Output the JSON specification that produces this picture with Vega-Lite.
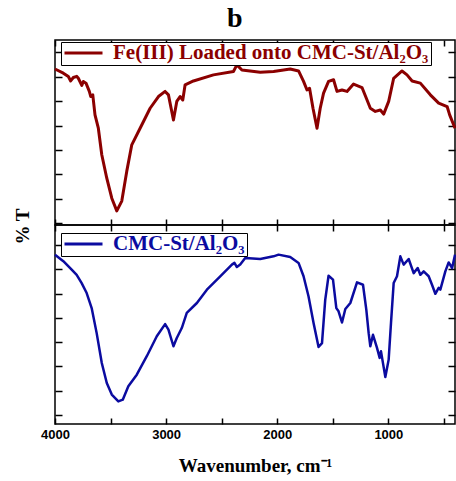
{
  "$schema": "https://vega.github.io/schema/vega-lite/v6.json",
  "autosize": {"type": "pad"},
  "padding": {"left": 12, "top": 4, "right": 0, "bottom": 0},
  "title": {"text": "b", "font": "Liberation Serif", "fontSize": 28, "fontWeight": "bold", "color": "black", "anchor": "middle", "offset": 6},
  "config": {
    "view": {"stroke": "black", "strokeWidth": 1.5},
    "axis": {"grid": false, "domain": false, "tickColor": "black", "tickWidth": 1.5, "minExtent": 0,
      "labelFont": "Liberation Sans", "labelFontWeight": "bold", "labelFontSize": 13, "labelColor": "black",
      "titleFont": "Liberation Serif", "titleFontWeight": "bold", "titleFontSize": 19, "titleColor": "black"},
    "legend": {"orient": "none", "legendX": 6, "legendY": 2, "strokeColor": "black", "fillColor": "white",
      "padding": 2, "symbolType": "stroke", "symbolStrokeWidth": 3, "symbolSize": 1444, "clipHeight": 18,
      "labelFont": "Liberation Serif", "labelFontWeight": "bold", "labelFontSize": 21, "labelLimit": 0, "labelOffset": 9, "title": null}
  },
  "datasets": {
    "fe": [
      {"wn":4000,"t":73.2,"sample":"Fe(III) Loaded onto CMC-St/Al₂O₃"},
      {"wn":3925,"t":71.5,"sample":"Fe(III) Loaded onto CMC-St/Al₂O₃"},
      {"wn":3880,"t":70.1,"sample":"Fe(III) Loaded onto CMC-St/Al₂O₃"},
      {"wn":3859,"t":68.3,"sample":"Fe(III) Loaded onto CMC-St/Al₂O₃"},
      {"wn":3835,"t":69.7,"sample":"Fe(III) Loaded onto CMC-St/Al₂O₃"},
      {"wn":3804,"t":70.2,"sample":"Fe(III) Loaded onto CMC-St/Al₂O₃"},
      {"wn":3790,"t":69.4,"sample":"Fe(III) Loaded onto CMC-St/Al₂O₃"},
      {"wn":3759,"t":66.5,"sample":"Fe(III) Loaded onto CMC-St/Al₂O₃"},
      {"wn":3745,"t":68.1,"sample":"Fe(III) Loaded onto CMC-St/Al₂O₃"},
      {"wn":3721,"t":67.4,"sample":"Fe(III) Loaded onto CMC-St/Al₂O₃"},
      {"wn":3691,"t":64.0,"sample":"Fe(III) Loaded onto CMC-St/Al₂O₃"},
      {"wn":3678,"t":61.9,"sample":"Fe(III) Loaded onto CMC-St/Al₂O₃"},
      {"wn":3660,"t":62.6,"sample":"Fe(III) Loaded onto CMC-St/Al₂O₃"},
      {"wn":3640,"t":54.4,"sample":"Fe(III) Loaded onto CMC-St/Al₂O₃"},
      {"wn":3610,"t":48.9,"sample":"Fe(III) Loaded onto CMC-St/Al₂O₃"},
      {"wn":3579,"t":38.0,"sample":"Fe(III) Loaded onto CMC-St/Al₂O₃"},
      {"wn":3534,"t":28.4,"sample":"Fe(III) Loaded onto CMC-St/Al₂O₃"},
      {"wn":3489,"t":20.2,"sample":"Fe(III) Loaded onto CMC-St/Al₂O₃"},
      {"wn":3444,"t":15.0,"sample":"Fe(III) Loaded onto CMC-St/Al₂O₃"},
      {"wn":3399,"t":19.0,"sample":"Fe(III) Loaded onto CMC-St/Al₂O₃"},
      {"wn":3354,"t":31.3,"sample":"Fe(III) Loaded onto CMC-St/Al₂O₃"},
      {"wn":3309,"t":42.1,"sample":"Fe(III) Loaded onto CMC-St/Al₂O₃"},
      {"wn":3234,"t":48.9,"sample":"Fe(III) Loaded onto CMC-St/Al₂O₃"},
      {"wn":3144,"t":57.1,"sample":"Fe(III) Loaded onto CMC-St/Al₂O₃"},
      {"wn":3069,"t":61.9,"sample":"Fe(III) Loaded onto CMC-St/Al₂O₃"},
      {"wn":3009,"t":64.0,"sample":"Fe(III) Loaded onto CMC-St/Al₂O₃"},
      {"wn":2979,"t":62.6,"sample":"Fe(III) Loaded onto CMC-St/Al₂O₃"},
      {"wn":2934,"t":52.3,"sample":"Fe(III) Loaded onto CMC-St/Al₂O₃"},
      {"wn":2904,"t":59.9,"sample":"Fe(III) Loaded onto CMC-St/Al₂O₃"},
      {"wn":2874,"t":61.9,"sample":"Fe(III) Loaded onto CMC-St/Al₂O₃"},
      {"wn":2850,"t":60.5,"sample":"Fe(III) Loaded onto CMC-St/Al₂O₃"},
      {"wn":2829,"t":66.7,"sample":"Fe(III) Loaded onto CMC-St/Al₂O₃"},
      {"wn":2754,"t":68.3,"sample":"Fe(III) Loaded onto CMC-St/Al₂O₃"},
      {"wn":2574,"t":70.8,"sample":"Fe(III) Loaded onto CMC-St/Al₂O₃"},
      {"wn":2394,"t":72.2,"sample":"Fe(III) Loaded onto CMC-St/Al₂O₃"},
      {"wn":2363,"t":74.9,"sample":"Fe(III) Loaded onto CMC-St/Al₂O₃"},
      {"wn":2318,"t":72.8,"sample":"Fe(III) Loaded onto CMC-St/Al₂O₃"},
      {"wn":2153,"t":71.9,"sample":"Fe(III) Loaded onto CMC-St/Al₂O₃"},
      {"wn":2033,"t":72.2,"sample":"Fe(III) Loaded onto CMC-St/Al₂O₃"},
      {"wn":1883,"t":73.2,"sample":"Fe(III) Loaded onto CMC-St/Al₂O₃"},
      {"wn":1808,"t":72.4,"sample":"Fe(III) Loaded onto CMC-St/Al₂O₃"},
      {"wn":1763,"t":68.1,"sample":"Fe(III) Loaded onto CMC-St/Al₂O₃"},
      {"wn":1732,"t":64.6,"sample":"Fe(III) Loaded onto CMC-St/Al₂O₃"},
      {"wn":1709,"t":65.3,"sample":"Fe(III) Loaded onto CMC-St/Al₂O₃"},
      {"wn":1678,"t":57.1,"sample":"Fe(III) Loaded onto CMC-St/Al₂O₃"},
      {"wn":1642,"t":48.9,"sample":"Fe(III) Loaded onto CMC-St/Al₂O₃"},
      {"wn":1613,"t":57.1,"sample":"Fe(III) Loaded onto CMC-St/Al₂O₃"},
      {"wn":1583,"t":63.3,"sample":"Fe(III) Loaded onto CMC-St/Al₂O₃"},
      {"wn":1538,"t":68.1,"sample":"Fe(III) Loaded onto CMC-St/Al₂O₃"},
      {"wn":1493,"t":68.8,"sample":"Fe(III) Loaded onto CMC-St/Al₂O₃"},
      {"wn":1462,"t":64.0,"sample":"Fe(III) Loaded onto CMC-St/Al₂O₃"},
      {"wn":1417,"t":64.6,"sample":"Fe(III) Loaded onto CMC-St/Al₂O₃"},
      {"wn":1372,"t":64.0,"sample":"Fe(III) Loaded onto CMC-St/Al₂O₃"},
      {"wn":1313,"t":67.0,"sample":"Fe(III) Loaded onto CMC-St/Al₂O₃"},
      {"wn":1237,"t":65.6,"sample":"Fe(III) Loaded onto CMC-St/Al₂O₃"},
      {"wn":1198,"t":61.2,"sample":"Fe(III) Loaded onto CMC-St/Al₂O₃"},
      {"wn":1162,"t":57.1,"sample":"Fe(III) Loaded onto CMC-St/Al₂O₃"},
      {"wn":1117,"t":55.8,"sample":"Fe(III) Loaded onto CMC-St/Al₂O₃"},
      {"wn":1072,"t":56.4,"sample":"Fe(III) Loaded onto CMC-St/Al₂O₃"},
      {"wn":1042,"t":54.7,"sample":"Fe(III) Loaded onto CMC-St/Al₂O₃"},
      {"wn":997,"t":59.9,"sample":"Fe(III) Loaded onto CMC-St/Al₂O₃"},
      {"wn":952,"t":69.4,"sample":"Fe(III) Loaded onto CMC-St/Al₂O₃"},
      {"wn":877,"t":72.4,"sample":"Fe(III) Loaded onto CMC-St/Al₂O₃"},
      {"wn":832,"t":70.8,"sample":"Fe(III) Loaded onto CMC-St/Al₂O₃"},
      {"wn":786,"t":68.3,"sample":"Fe(III) Loaded onto CMC-St/Al₂O₃"},
      {"wn":712,"t":67.4,"sample":"Fe(III) Loaded onto CMC-St/Al₂O₃"},
      {"wn":622,"t":62.6,"sample":"Fe(III) Loaded onto CMC-St/Al₂O₃"},
      {"wn":547,"t":59.2,"sample":"Fe(III) Loaded onto CMC-St/Al₂O₃"},
      {"wn":471,"t":57.8,"sample":"Fe(III) Loaded onto CMC-St/Al₂O₃"},
      {"wn":448,"t":54.4,"sample":"Fe(III) Loaded onto CMC-St/Al₂O₃"},
      {"wn":400,"t":48.9,"sample":"Fe(III) Loaded onto CMC-St/Al₂O₃"}
    ],
    "cmc": [
      {"wn":4000,"t":76.0,"sample":"CMC-St/Al₂O₃"},
      {"wn":3925,"t":73.3,"sample":"CMC-St/Al₂O₃"},
      {"wn":3850,"t":69.8,"sample":"CMC-St/Al₂O₃"},
      {"wn":3805,"t":67.7,"sample":"CMC-St/Al₂O₃"},
      {"wn":3760,"t":64.3,"sample":"CMC-St/Al₂O₃"},
      {"wn":3715,"t":60.2,"sample":"CMC-St/Al₂O₃"},
      {"wn":3670,"t":54.0,"sample":"CMC-St/Al₂O₃"},
      {"wn":3625,"t":43.7,"sample":"CMC-St/Al₂O₃"},
      {"wn":3579,"t":31.4,"sample":"CMC-St/Al₂O₃"},
      {"wn":3534,"t":23.2,"sample":"CMC-St/Al₂O₃"},
      {"wn":3489,"t":18.4,"sample":"CMC-St/Al₂O₃"},
      {"wn":3430,"t":15.6,"sample":"CMC-St/Al₂O₃"},
      {"wn":3390,"t":16.3,"sample":"CMC-St/Al₂O₃"},
      {"wn":3340,"t":21.8,"sample":"CMC-St/Al₂O₃"},
      {"wn":3264,"t":26.6,"sample":"CMC-St/Al₂O₃"},
      {"wn":3174,"t":34.2,"sample":"CMC-St/Al₂O₃"},
      {"wn":3084,"t":42.4,"sample":"CMC-St/Al₂O₃"},
      {"wn":3009,"t":47.4,"sample":"CMC-St/Al₂O₃"},
      {"wn":2979,"t":45.1,"sample":"CMC-St/Al₂O₃"},
      {"wn":2934,"t":38.3,"sample":"CMC-St/Al₂O₃"},
      {"wn":2904,"t":41.7,"sample":"CMC-St/Al₂O₃"},
      {"wn":2859,"t":45.8,"sample":"CMC-St/Al₂O₃"},
      {"wn":2814,"t":52.0,"sample":"CMC-St/Al₂O₃"},
      {"wn":2723,"t":56.1,"sample":"CMC-St/Al₂O₃"},
      {"wn":2633,"t":61.6,"sample":"CMC-St/Al₂O₃"},
      {"wn":2513,"t":67.1,"sample":"CMC-St/Al₂O₃"},
      {"wn":2408,"t":71.9,"sample":"CMC-St/Al₂O₃"},
      {"wn":2385,"t":72.6,"sample":"CMC-St/Al₂O₃"},
      {"wn":2363,"t":70.9,"sample":"CMC-St/Al₂O₃"},
      {"wn":2333,"t":71.9,"sample":"CMC-St/Al₂O₃"},
      {"wn":2288,"t":74.6,"sample":"CMC-St/Al₂O₃"},
      {"wn":2153,"t":74.2,"sample":"CMC-St/Al₂O₃"},
      {"wn":2033,"t":75.3,"sample":"CMC-St/Al₂O₃"},
      {"wn":1988,"t":76.0,"sample":"CMC-St/Al₂O₃"},
      {"wn":1883,"t":75.0,"sample":"CMC-St/Al₂O₃"},
      {"wn":1808,"t":72.6,"sample":"CMC-St/Al₂O₃"},
      {"wn":1763,"t":67.1,"sample":"CMC-St/Al₂O₃"},
      {"wn":1718,"t":58.8,"sample":"CMC-St/Al₂O₃"},
      {"wn":1673,"t":47.9,"sample":"CMC-St/Al₂O₃"},
      {"wn":1628,"t":38.0,"sample":"CMC-St/Al₂O₃"},
      {"wn":1597,"t":39.6,"sample":"CMC-St/Al₂O₃"},
      {"wn":1568,"t":57.4,"sample":"CMC-St/Al₂O₃"},
      {"wn":1538,"t":67.3,"sample":"CMC-St/Al₂O₃"},
      {"wn":1498,"t":65.7,"sample":"CMC-St/Al₂O₃"},
      {"wn":1468,"t":54.0,"sample":"CMC-St/Al₂O₃"},
      {"wn":1448,"t":52.7,"sample":"CMC-St/Al₂O₃"},
      {"wn":1417,"t":48.1,"sample":"CMC-St/Al₂O₃"},
      {"wn":1387,"t":53.6,"sample":"CMC-St/Al₂O₃"},
      {"wn":1342,"t":56.1,"sample":"CMC-St/Al₂O₃"},
      {"wn":1282,"t":64.6,"sample":"CMC-St/Al₂O₃"},
      {"wn":1228,"t":63.6,"sample":"CMC-St/Al₂O₃"},
      {"wn":1198,"t":53.3,"sample":"CMC-St/Al₂O₃"},
      {"wn":1177,"t":43.7,"sample":"CMC-St/Al₂O₃"},
      {"wn":1162,"t":38.3,"sample":"CMC-St/Al₂O₃"},
      {"wn":1138,"t":43.0,"sample":"CMC-St/Al₂O₃"},
      {"wn":1102,"t":37.6,"sample":"CMC-St/Al₂O₃"},
      {"wn":1078,"t":33.5,"sample":"CMC-St/Al₂O₃"},
      {"wn":1066,"t":36.2,"sample":"CMC-St/Al₂O₃"},
      {"wn":1027,"t":25.6,"sample":"CMC-St/Al₂O₃"},
      {"wn":997,"t":32.8,"sample":"CMC-St/Al₂O₃"},
      {"wn":976,"t":47.9,"sample":"CMC-St/Al₂O₃"},
      {"wn":952,"t":64.3,"sample":"CMC-St/Al₂O₃"},
      {"wn":922,"t":67.1,"sample":"CMC-St/Al₂O₃"},
      {"wn":892,"t":75.3,"sample":"CMC-St/Al₂O₃"},
      {"wn":862,"t":71.9,"sample":"CMC-St/Al₂O₃"},
      {"wn":817,"t":74.2,"sample":"CMC-St/Al₂O₃"},
      {"wn":772,"t":68.4,"sample":"CMC-St/Al₂O₃"},
      {"wn":736,"t":70.5,"sample":"CMC-St/Al₂O₃"},
      {"wn":712,"t":67.7,"sample":"CMC-St/Al₂O₃"},
      {"wn":682,"t":69.1,"sample":"CMC-St/Al₂O₃"},
      {"wn":637,"t":67.1,"sample":"CMC-St/Al₂O₃"},
      {"wn":607,"t":63.6,"sample":"CMC-St/Al₂O₃"},
      {"wn":577,"t":59.9,"sample":"CMC-St/Al₂O₃"},
      {"wn":547,"t":62.3,"sample":"CMC-St/Al₂O₃"},
      {"wn":532,"t":61.6,"sample":"CMC-St/Al₂O₃"},
      {"wn":487,"t":69.1,"sample":"CMC-St/Al₂O₃"},
      {"wn":457,"t":72.8,"sample":"CMC-St/Al₂O₃"},
      {"wn":426,"t":70.5,"sample":"CMC-St/Al₂O₃"},
      {"wn":400,"t":76.0,"sample":"CMC-St/Al₂O₃"}
    ]
  },
  "spacing": 0,
  "bounds": "flush",
  "resolve": {"scale": {"color": "independent"}, "legend": {"color": "independent"}},
  "vconcat": [
    {
      "width": 400, "height": 185,
      "data": {"name": "fe"},
      "resolve": {"axis": {"x": "independent", "y": "independent"}},
      "layer": [
        {
          "mark": {"type": "line", "strokeWidth": 3, "strokeJoin": "round"},
          "encoding": {
            "x": {"field": "wn", "type": "quantitative",
              "scale": {"domain": [400, 4000], "reverse": true, "nice": false, "zero": false},
              "axis": {"orient": "bottom", "values": [4000, 3500, 3000, 2500, 2000, 1500, 1000, 500], "labels": false, "title": null, "tickSize": -6, "maxExtent": 0}},
            "y": {"field": "t", "type": "quantitative",
              "scale": {"domain": [9.2, 85.1], "nice": false, "zero": false},
              "axis": {"orient": "left", "values": [10, 20, 30, 40, 50, 60, 70, 80], "labels": false, "tickSize": -7,
                "title": "% T", "titleAngle": -90, "titleX": -33, "titleY": 186, "titleAlign": "center", "titleBaseline": "middle"}},
            "color": {"field": "sample", "type": "nominal",
              "scale": {"range": ["#8b0000"]},
              "legend": {"labelColor": "#8b0000"}}
          }
        },
        {
          "mark": {"type": "line", "strokeOpacity": 0},
          "encoding": {
            "x": {"field": "wn", "type": "quantitative",
              "axis": {"orient": "top", "values": [4000, 3500, 3000, 2500, 2000, 1500, 1000, 500], "labels": false, "title": null, "tickSize": -6, "maxExtent": 0}},
            "y": {"field": "t", "type": "quantitative",
              "axis": {"orient": "right", "values": [10, 20, 30, 40, 50, 60, 70, 80], "labels": false, "title": null, "tickSize": -7, "maxExtent": 0}}
          }
        }
      ]
    },
    {
      "width": 400, "height": 199,
      "data": {"name": "cmc"},
      "resolve": {"axis": {"x": "independent", "y": "independent"}},
      "layer": [
        {
          "mark": {"type": "line", "strokeWidth": 2.5, "strokeJoin": "round"},
          "encoding": {
            "x": {"field": "wn", "type": "quantitative",
              "scale": {"domain": [400, 4000], "reverse": true, "nice": false, "zero": false},
              "axis": {"orient": "bottom", "values": [4000, 3500, 3000, 2500, 2000, 1500, 1000, 500], "tickSize": -6,
                "labelExpr": "datum.value % 1000 === 0 ? datum.label : ''", "format": "d", "labelPadding": 10, "labelFlush": false, "labelOverlap": false,
                "title": "Wavenumber, cm⁻¹", "titlePadding": 15}},
            "y": {"field": "t", "type": "quantitative",
              "scale": {"domain": [6.3, 88.2], "nice": false, "zero": false},
              "axis": {"orient": "left", "values": [10, 20, 30, 40, 50, 60, 70, 80], "labels": false, "tickSize": -7, "title": null}},
            "color": {"field": "sample", "type": "nominal",
              "scale": {"range": ["#0b0ba0"]},
              "legend": {"labelColor": "#0b0ba0", "legendY": 8}}
          }
        },
        {
          "mark": {"type": "line", "strokeOpacity": 0},
          "encoding": {
            "x": {"field": "wn", "type": "quantitative",
              "axis": {"orient": "top", "values": [4000, 3500, 3000, 2500, 2000, 1500, 1000, 500], "labels": false, "title": null, "tickSize": -6, "maxExtent": 0}},
            "y": {"field": "t", "type": "quantitative",
              "axis": {"orient": "right", "values": [10, 20, 30, 40, 50, 60, 70, 80], "labels": false, "title": null, "tickSize": -7, "maxExtent": 0}}
          }
        }
      ]
    }
  ]
}
